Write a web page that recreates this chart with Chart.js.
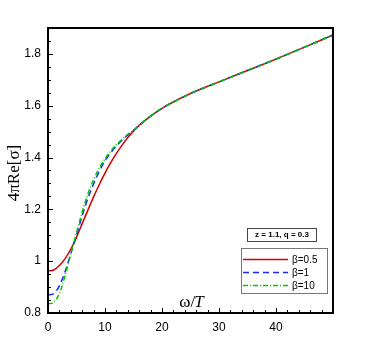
<!DOCTYPE html>
<html>
<head>
<meta charset="utf-8">
<script src="https://cdn.jsdelivr.net/npm/chart.js@4.4.1/dist/chart.umd.min.js"></script>
<style>
  html, body { margin: 0; padding: 0; background: #fff; }
  #wrap { width: 382px; height: 340px; }
</style>
</head>
<body>
<div id="wrap"><canvas id="myChart" width="382" height="340"></canvas></div>
<script>
// omega/T values
var omega = [0, 1, 2, 3, 4, 5, 6, 7, 8, 9, 10, 11, 12, 13, 14, 15, 16, 18, 20, 25, 30, 35, 40, 45, 50];

// 4*pi*Re[sigma] for each beta
var beta05 = [0.962, 0.966, 0.983, 1.010, 1.046, 1.092, 1.145, 1.197, 1.248, 1.296, 1.340, 1.380, 1.416, 1.448, 1.477, 1.502, 1.524, 1.560, 1.590, 1.647, 1.692, 1.736, 1.780, 1.826, 1.873];
var beta1  = [0.870, 0.875, 0.905, 0.960, 1.030, 1.100, 1.175, 1.243, 1.298, 1.347, 1.388, 1.418, 1.445, 1.467, 1.487, 1.505, 1.525, 1.560, 1.590, 1.647, 1.692, 1.736, 1.780, 1.826, 1.873];
var beta10 = [0.835, 0.842, 0.875, 0.945, 1.028, 1.110, 1.190, 1.260, 1.315, 1.360, 1.395, 1.425, 1.450, 1.470, 1.490, 1.505, 1.525, 1.560, 1.590, 1.647, 1.692, 1.736, 1.780, 1.826, 1.873];

var seriesLabels = ['\u03b2=0.5', '\u03b2=1', '\u03b2=10'];
var infoText = 'z = 1.1, q = 0.3';

function pts(ys) {
    return omega.map(function (x, i) { return { x: x, y: ys[i] }; });
}

// red drawn first, green on top (higher order = drawn earlier)
var chartData = {
    datasets: [{
        label: seriesLabels[0],
        data: pts(beta05),
        borderColor: 'rgb(210, 0, 0)',
        borderWidth: 1.5,
        borderDash: [],
        order: 3
    }, {
        label: seriesLabels[1],
        data: pts(beta1),
        borderColor: 'rgb(20, 40, 255)',
        borderWidth: 1.5,
        borderDash: [6, 4],
        order: 2
    }, {
        label: seriesLabels[2],
        data: pts(beta10),
        borderColor: 'rgb(0, 200, 0)',
        borderWidth: 1.5,
        borderDash: [5, 2, 1, 2],
        order: 1
    }]
};

// frame, inward ticks, axis titles and legend boxes
var decorPlugin = {
    id: 'decor',
    afterDraw: function (chart) {
        var ctx = chart.ctx;
        var a = chart.chartArea;
        var xs = chart.scales.x, ys = chart.scales.y;
        ctx.save();

        // frame
        ctx.strokeStyle = '#000';
        ctx.lineWidth = 2;
        ctx.strokeRect(a.left, a.top, a.right - a.left, a.bottom - a.top);

        // x ticks (inward)
        ctx.lineWidth = 1;
        ctx.beginPath();
        for (var v = 0; v <= 50; v += 2) {
            var px = Math.round(xs.getPixelForValue(v)) + 0.5;
            var len = (v % 10 === 0) ? 5 : 3;
            ctx.moveTo(px, a.bottom);
            ctx.lineTo(px, a.bottom - len);
        }
        // y ticks (inward)
        for (var k = 0; k <= 22; k++) {
            var yv = 0.8 + k * 0.05;
            var py = Math.round(ys.getPixelForValue(yv)) + 0.5;
            var l2 = (k % 4 === 0) ? 5 : 3;
            ctx.moveTo(a.left, py);
            ctx.lineTo(a.left + l2, py);
        }
        ctx.stroke();

        // axis titles
        ctx.fillStyle = '#000';
        ctx.textBaseline = 'alphabetic';
        ctx.font = '17px "Liberation Serif", serif';
        var w1 = ctx.measureText('\u03c9/').width;
        ctx.font = 'italic 17px "Liberation Serif", serif';
        var w2 = ctx.measureText('T').width;
        var sx = 192 - (w1 + w2) / 2;
        ctx.font = '17px "Liberation Serif", serif';
        ctx.textAlign = 'left';
        ctx.fillText('\u03c9/', sx, 307);
        ctx.font = 'italic 17px "Liberation Serif", serif';
        ctx.fillText('T', sx + w1 - 1, 307);

        ctx.save();
        ctx.translate(19, 173);
        ctx.rotate(-Math.PI / 2);
        ctx.textAlign = 'center';
        ctx.font = '17px "Liberation Serif", serif';
        ctx.fillText('4\u03c0Re[\u03c3]', 0, 0);
        ctx.restore();

        // info box
        ctx.lineWidth = 1;
        ctx.strokeStyle = '#444';
        ctx.strokeRect(247.5, 228.5, 69, 13);
        ctx.font = 'bold 8px "Liberation Sans", Arial, sans-serif';
        ctx.textAlign = 'center';
        ctx.textBaseline = 'middle';
        ctx.fillText(infoText, 282, 235);

        // legend box
        ctx.strokeStyle = '#777';
        ctx.strokeRect(241.5, 248.5, 86, 45);
        var rows = [259, 272, 285];
        chart.data.datasets.forEach(function (ds, i) {
            ctx.strokeStyle = ds.borderColor;
            ctx.lineWidth = ds.borderWidth;
            ctx.setLineDash(ds.borderDash);
            ctx.beginPath();
            ctx.moveTo(243, rows[i] + 0.5);
            ctx.lineTo(288, rows[i] + 0.5);
            ctx.stroke();
            ctx.setLineDash([]);
            ctx.fillStyle = '#000';
            ctx.font = '10px "Liberation Sans", Arial, sans-serif';
            ctx.textAlign = 'left';
            ctx.fillText(ds.label, 292, rows[i] + 1);
        });

        ctx.restore();
    }
};

var chartOptions = {
    responsive: false,
    animation: false,
    layout: { padding: { left: 0, right: 49, top: 28, bottom: 0 } },
    elements: {
        point: { radius: 0 },
        line: { cubicInterpolationMode: 'monotone', fill: false }
    },
    datasets: { scatter: { showLine: true } },
    plugins: { legend: { display: false }, tooltip: { enabled: false } },
    scales: {
        x: {
            type: 'linear', min: 0, max: 50,
            grid: { display: false, drawTicks: false },
            border: { display: false },
            afterFit: function (s) { s.height = 27; },
            ticks: {
                stepSize: 10, includeBounds: false, padding: 7, color: '#000',
                font: { family: '"Liberation Sans", Arial, sans-serif', size: 12 },
                maxRotation: 0,
                callback: function (v) { return v === 50 ? '' : String(v); }
            }
        },
        y: {
            type: 'linear', min: 0.8, max: 1.9,
            grid: { display: false, drawTicks: false },
            border: { display: false },
            afterFit: function (s) { s.width = 48; },
            ticks: {
                stepSize: 0.2, includeBounds: false, padding: 7, color: '#000',
                font: { family: '"Liberation Sans", Arial, sans-serif', size: 12 },
                callback: function (v) { return String(Math.round(v * 10) / 10); }
            }
        }
    }
};

var element = document.getElementById('myChart').getContext('2d');
var chart = new Chart(element, { type: 'scatter', data: chartData, options: chartOptions, plugins: [decorPlugin] });
</script>
</body>
</html>
